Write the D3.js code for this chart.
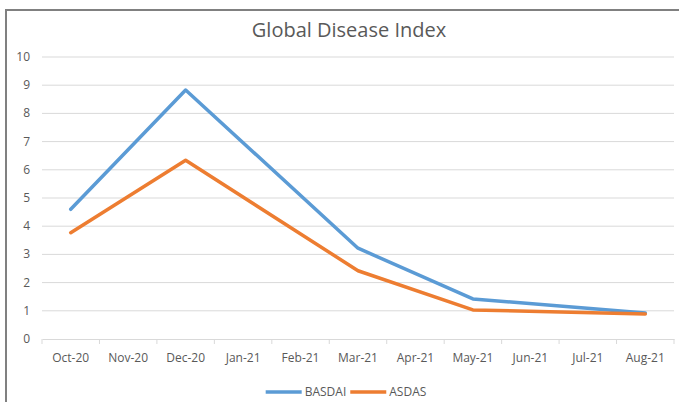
<!DOCTYPE html>
<html>
<head>
<meta charset="utf-8">
<script src="https://d3js.org/d3.v7.min.js"></script>
<style>
	body {margin: 0; background: #fff;}
	svg {display: block;}
	text {font-family: "Open Sans", "Liberation Sans", sans-serif; fill: #595959;}
</style>
</head>
<body>
<div id="chart"></div>
<script>
// chart values (null = no data that month)
var months = ["Oct-20", "Nov-20", "Dec-20", "Jan-21", "Feb-21", "Mar-21", "Apr-21", "May-21", "Jun-21", "Jul-21", "Aug-21"];
var basdai = [4.6, null, 8.83, null, null, 3.22, null, 1.42, null, null, 0.92];
var asdas  = [3.77, null, 6.34, null, null, 2.42, null, 1.03, null, null, 0.89];
var yTicks = [0, 1, 2, 3, 4, 5, 6, 7, 8, 9, 10];
var seriesNames = ["BASDAI", "ASDAS"];
var seriesColors = ["#5b9bd5", "#ed7d31"];

var width = 679, height = 402;
var plotLeft = 42, plotRight = 674, plotTop = 57, plotBottom = 339;

var svg = d3.select("#chart").append("svg")
	.attr("width", width)
	.attr("height", height);

// outer chart frame (only top and left are visible)
svg.append("path")
	.attr("d", "M6," + height + "V10H" + width)
	.style("fill", "none")
	.style("stroke", "#808080")
	.style("stroke-width", 2);

svg.append("text")
	.attr("x", 349)
	.attr("y", 37)
	.attr("text-anchor", "middle")
	.style("font-size", "20px")
	.text("Global Disease Index");

var xScale = d3.scaleBand().domain(months).range([plotLeft, plotRight]);
var yScale = d3.scaleLinear().domain([0, 10]).range([plotBottom, plotTop]);

// horizontal gridlines
svg.selectAll(".grid")
	.data(yTicks.filter(function(d) { return d > 0; }))
	.enter()
	.append("line")
	.attr("x1", plotLeft)
	.attr("x2", plotRight)
	.attr("y1", function(d) { return yScale(d); })
	.attr("y2", function(d) { return yScale(d); })
	.style("stroke", "#d9d9d9")
	.style("stroke-width", 1);

// y axis labels
svg.selectAll(".ylab")
	.data(yTicks)
	.enter()
	.append("text")
	.attr("x", 30)
	.attr("y", function(d) { return yScale(d) + 4; })
	.attr("text-anchor", "end")
	.style("font-size", "12px")
	.text(function(d) { return d; });

// x axis line with category boundary ticks
var xAxis = svg.append("g")
	.attr("transform", "translate(0," + plotBottom + ")")
	.call(d3.axisBottom(xScale).tickSize(0).tickPadding(14));
xAxis.select(".domain").style("stroke", "#d9d9d9");
xAxis.selectAll("text")
	.style("font-size", "12px")
	.style("font-family", "'Open Sans', 'Liberation Sans', sans-serif")
	.style("fill", "#595959");

var bounds = months.map(function(m) { return xScale(m); }).concat([plotRight]);
xAxis.selectAll(".bound")
	.data(bounds)
	.enter()
	.append("line")
	.attr("x1", function(d) { return d; })
	.attr("x2", function(d) { return d; })
	.attr("y1", 0)
	.attr("y2", 5)
	.style("stroke", "#d9d9d9");

// lines, gaps are bridged like Excel's "connect data points"
var line = d3.line()
	.x(function(d) { return xScale(d.m) + xScale.bandwidth() / 2; })
	.y(function(d) { return yScale(d.v); });

[basdai, asdas].forEach(function(values, i) {
	var pts = months.map(function(m, j) { return {m: m, v: values[j]}; })
		.filter(function(d) { return d.v !== null; });
	svg.append("path")
		.datum(pts)
		.attr("d", line)
		.style("fill", "none")
		.style("stroke", seriesColors[i])
		.style("stroke-width", 3.5)
		.style("stroke-linejoin", "round")
		.style("stroke-linecap", "round");
});

// legend, laid out from measured text widths and centred
var legend = svg.append("g");
var lx = 0;
seriesNames.forEach(function(name, i) {
	legend.append("line")
		.attr("x1", lx)
		.attr("x2", lx + 36)
		.attr("y1", 392)
		.attr("y2", 392)
		.style("stroke", seriesColors[i])
		.style("stroke-width", 3.5);
	var t = legend.append("text")
		.attr("x", lx + 39)
		.attr("y", 396)
		.style("font-size", "12px")
		.text(name);
	lx += 39 + t.node().getComputedTextLength() + 4;
});
legend.attr("transform", "translate(" + (346 - (lx - 4) / 2) + ",0)");
</script>
</body>
</html>
